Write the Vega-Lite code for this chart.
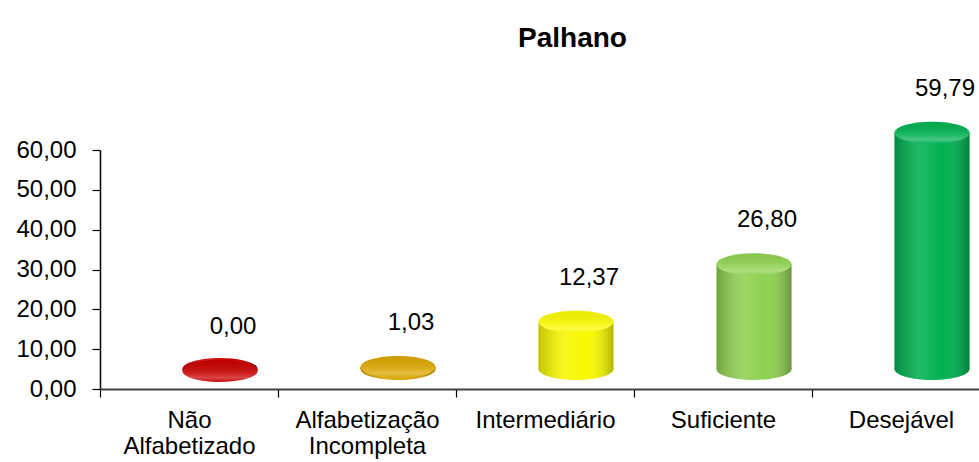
{
  "$schema": "https://vega.github.io/schema/vega-lite/v6.json",
  "width": 879,
  "height": 239,
  "autosize": {"type": "none"},
  "padding": {"left": 100, "top": 150, "right": 0, "bottom": 73},
  "background": "white",
  "title": {"text": "Palhano", "fontSize": 28, "font": "Liberation Sans", "fontWeight": "bold", "color": "black", "anchor": "middle", "dx": 33, "offset": 2, "baseline": "alphabetic"},
  "config": {
    "locale": {"number": {"decimal": ",", "thousands": ".", "grouping": [3], "currency": ["R$", ""]}},
    "view": {"stroke": null},
    "font": "Liberation Sans",
    "axisY": {"domainColor": "black", "domainWidth": 1.5, "tickColor": "black", "tickSize": 8, "tickWidth": 1.2, "labelPadding": 16, "labelFontSize": 24, "labelColor": "black", "labelFont": "Liberation Sans", "labelOverlap": false, "grid": false},
    "axisX": {"domainColor": "#404040", "domainWidth": 2, "tickColor": "black", "tickSize": 8, "tickWidth": 1.2, "tickBand": "extent", "labelPadding": 11, "labelFontSize": 24, "labelColor": "black", "labelFont": "Liberation Sans", "labelAngle": 0, "labelLineHeight": 26, "labelOverlap": false, "grid": false}
  },
  "data": {"values": [
    {"nivel": "Não Alfabetizado", "valor": 0.00},
    {"nivel": "Alfabetização Incompleta", "valor": 1.03},
    {"nivel": "Intermediário", "valor": 12.37},
    {"nivel": "Suficiente", "valor": 26.80},
    {"nivel": "Desejável", "valor": 59.79}
  ]},
  "encoding": {
    "x": {"field": "nivel", "type": "nominal", "sort": null, "title": null,
      "scale": {"range": [0, 890], "paddingInner": 0, "paddingOuter": 0},
      "axis": {"labelExpr": "split(datum.label, ' ')"}},
    "y": {"field": "valor", "type": "quantitative", "title": null,
      "scale": {"domain": [0, 60], "nice": false},
      "axis": {"values": [0, 10, 20, 30, 40, 50, 60], "format": ".2f", "title": null, "tickCount": 7}}
  },
  "layer": [
    {
      "mark": {"type": "point", "shape": "M-1,0A1,0.293,0,1,1,1,0A1,0.293,0,1,1,-1,0Z", "size": 5625, "filled": true, "opacity": 1, "strokeWidth": 0, "xOffset": 31, "yOffset": -20},
      "encoding": {
        "y": {"datum": 0, "type": "quantitative", "title": null, "axis": {"values": [0, 10, 20, 30, 40, 50, 60], "format": ".2f", "title": null, "tickCount": 7}},
        "color": {"field": "nivel", "type": "nominal", "legend": null, "scale": {"domain": ["Não Alfabetizado", "Alfabetização Incompleta", "Intermediário", "Suficiente", "Desejável"], "range": ["#C80000", "#D9A400", "#F8F800", "#8FD150", "#00B050"]}}
      }
    },
    {
      "mark": {"type": "point", "shape": "M-1,0A1,0.293,0,1,1,1,0A1,0.293,0,1,1,-1,0Z", "size": 5625, "filled": true, "opacity": 1, "strokeWidth": 0, "xOffset": 31, "yOffset": -20,
        "fill": {"gradient": "linear", "x1": 0, "y1": 0, "x2": 1, "y2": 0, "stops": [
          {"offset": 0, "color": "rgba(0,0,0,0.22)"},
          {"offset": 0.35, "color": "rgba(255,255,255,0.12)"},
          {"offset": 0.65, "color": "rgba(255,255,255,0.0)"},
          {"offset": 1, "color": "rgba(0,0,0,0.28)"}]}},
      "encoding": {
        "y": {"datum": 0, "type": "quantitative", "title": null, "axis": {"values": [0, 10, 20, 30, 40, 50, 60], "format": ".2f", "title": null, "tickCount": 7}}
      }
    },
    {
      "mark": {"type": "bar", "width": 75, "xOffset": 31, "yOffset": -18, "y2Offset": -20},
      "encoding": {
        "y2": {"datum": 0},
        "color": {"field": "nivel", "type": "nominal", "legend": null}
      }
    },
    {
      "mark": {"type": "bar", "width": 75, "xOffset": 31, "yOffset": -18, "y2Offset": -20,
        "fill": {"gradient": "linear", "x1": 0, "y1": 0, "x2": 1, "y2": 0, "stops": [
          {"offset": 0, "color": "rgba(0,0,0,0.22)"},
          {"offset": 0.35, "color": "rgba(255,255,255,0.12)"},
          {"offset": 0.65, "color": "rgba(255,255,255,0.0)"},
          {"offset": 1, "color": "rgba(0,0,0,0.28)"}]}},
      "encoding": {
        "y2": {"datum": 0}
      }
    },
    {
      "mark": {"type": "point", "shape": "M-1,0A1,0.293,0,1,1,1,0A1,0.293,0,1,1,-1,0Z", "size": 5625, "filled": true, "opacity": 1, "strokeWidth": 0, "xOffset": 31, "yOffset": -18},
      "encoding": {
        "color": {"field": "nivel", "type": "nominal", "legend": null}
      }
    },
    {
      "mark": {"type": "point", "shape": "M-1,0A1,0.293,0,1,1,1,0A1,0.293,0,1,1,-1,0Z", "size": 5625, "filled": true, "opacity": 1, "strokeWidth": 0, "xOffset": 31, "yOffset": -18,
        "fill": {"gradient": "linear", "x1": 0, "y1": 0, "x2": 0, "y2": 1, "stops": [
          {"offset": 0, "color": "rgba(0,0,0,0.05)"},
          {"offset": 0.6, "color": "rgba(255,255,255,0.12)"},
          {"offset": 0.8, "color": "rgba(255,255,255,0.28)"},
          {"offset": 1, "color": "rgba(255,255,255,0.05)"}]}},
      "encoding": {}
    },
    {
      "mark": {"type": "text", "fontSize": 24, "font": "Liberation Sans", "color": "black", "align": "center", "baseline": "middle", "xOffset": 44, "yOffset": -62},
      "encoding": {
        "text": {"field": "valor", "type": "quantitative", "format": ".2f"}
      }
    }
  ]
}
